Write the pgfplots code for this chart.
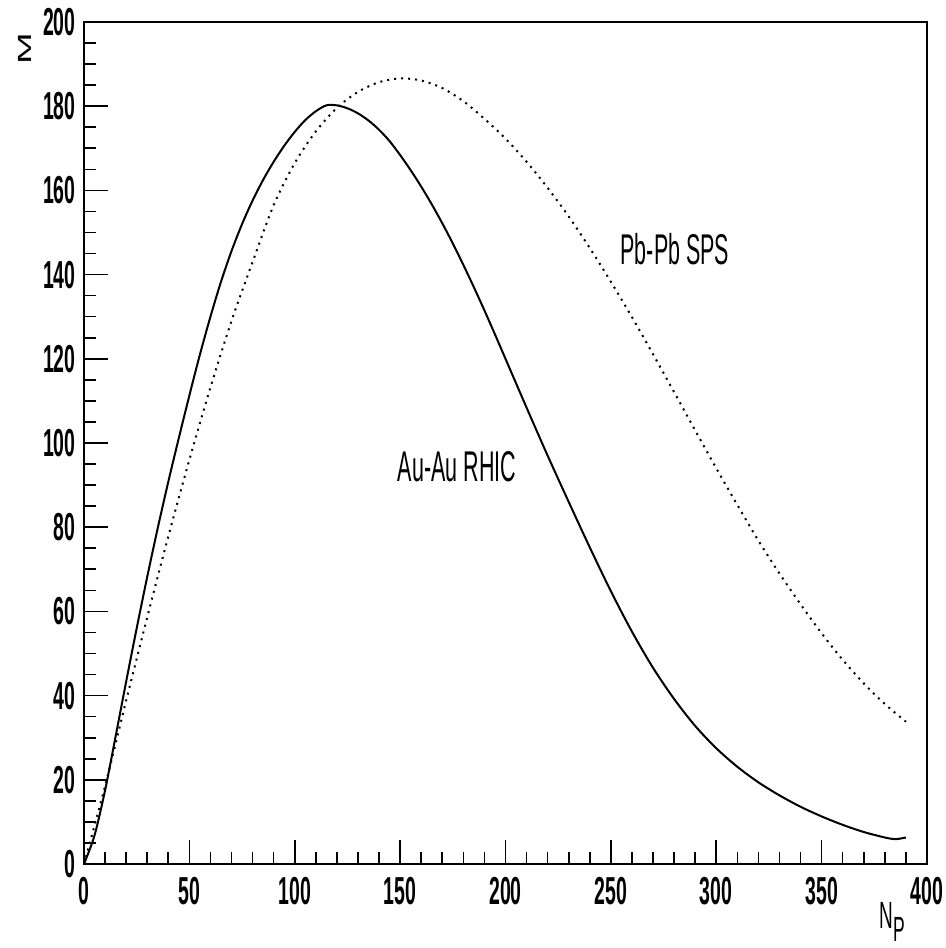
\documentclass[border=0pt]{standalone}
\usepackage{fontspec}
\usepackage{graphicx}
\usepackage{pgfplots}
\pgfplotsset{compat=1.18}
\newfontfamily\rootfont[FakeStretch=0.5]{Liberation Sans}
\newfontfamily\plainsans{Liberation Sans}

\begin{document}
\begin{tikzpicture}
% page size: 946 x 948 px at 0.5pt per px
\useasboundingbox (-42pt,-42pt) rectangle (431pt,432pt);
\begin{axis}[
    at={(0,0)}, anchor=south west,
    scale only axis,
    width=421.5pt, height=421pt,
    xmin=0, xmax=400, ymin=0, ymax=200,
    xtick={0,50,...,400}, minor x tick num=4,
    ytick={0,20,...,200}, minor y tick num=3,
    tick pos=left, tick align=inside,
    major tick length=12pt, minor tick length=6pt,
    tick style={black, line width=0.8pt},
    axis line style={line width=1pt},
    /pgf/number format/assume math mode=true,
    tick label style={font=\rootfont\bfseries\fontsize{19.5}{19.5}\selectfont},
    yticklabel style={inner sep=0pt, xshift=-4pt},
    xticklabel style={inner sep=0pt, yshift=-6.5pt},
    xlabel={N\raisebox{-6.5pt}{\fontsize{17.5}{17.5}\selectfont P}},
    xlabel style={font=\rootfont\fontsize{19}{19}\selectfont, inner sep=0pt,
                  at={(rel axis cs:0.974,-0.045)}, anchor=north east},
    clip=false,
  ]
% Au-Au RHIC
\addplot[black, line width=1pt, smooth] coordinates {
  (0,0) (5,6.8) (10,17.5) (15,30.3) (20,43.3) (25,56) (30,68.2) (35,79.8)
  (40,90.8) (45,101.2) (50,111.3) (55,121) (60,130) (65,138.3)
  (70,145.6) (75,152) (80,157.6) (85,162.5) (90,166.8) (95,170.6)
  (100,173.9) (105,176.7) (110,178.8) (115,180.2) (120,180.2) (125,179.5)
  (130,178.3) (135,176.6) (140,174.4) (145,171.7) (150,168.4) (155,164.8)
  (160,160.9) (165,156.7) (170,152.2) (175,147.4) (180,142.3) (185,137)
  (190,131.5) (195,125.8) (200,120) (210,108.4) (220,97) (230,86)
  (240,75.2) (250,64.8) (260,55.2) (270,46.6) (280,39.2) (290,32.8)
  (300,27.5) (310,23.1) (320,19.4) (330,16.3) (340,13.6) (350,11.3)
  (360,9.3) (370,7.6) (380,6.3) (385,5.9) (390,6.3)};
% Pb-Pb SPS
\addplot[black, line width=1pt, dash pattern=on 1pt off 2.5pt, smooth] coordinates {
  (0,0) (10,18.5) (20,38.8) (30,58.6) (40,77.8) (50,96) (60,113.2)
  (70,129) (80,143) (90,156.5) (100,166.5) (110,174) (120,179.6)
  (130,183.4) (140,185.7) (150,186.6) (160,186.1) (170,184.3)
  (180,181.2) (190,177) (200,172.3) (210,166.8) (220,160.6) (230,153.8)
  (240,146.3) (250,138.3) (260,129.9) (270,121.1) (280,112.1) (290,103)
  (300,94) (310,85.3) (320,76.8) (330,69) (340,61.7) (350,54.8)
  (360,48.5) (370,42.9) (380,38) (390,33.8)};
\node[font=\rootfont\fontsize{21.5}{21.5}\selectfont] at (axis cs:177,94.3) {Au-Au RHIC};
\node[font=\rootfont\fontsize{21.5}{21.5}\selectfont] at (axis cs:280.4,146.1) {Pb-Pb SPS};
\node[inner sep=0pt] at (rel axis cs:-0.070,0.968)
  {\scalebox{0.5}[1]{\rotatebox{90}{\plainsans\fontsize{19}{19}\selectfont M}}};
\end{axis}
\end{tikzpicture}
\end{document}
